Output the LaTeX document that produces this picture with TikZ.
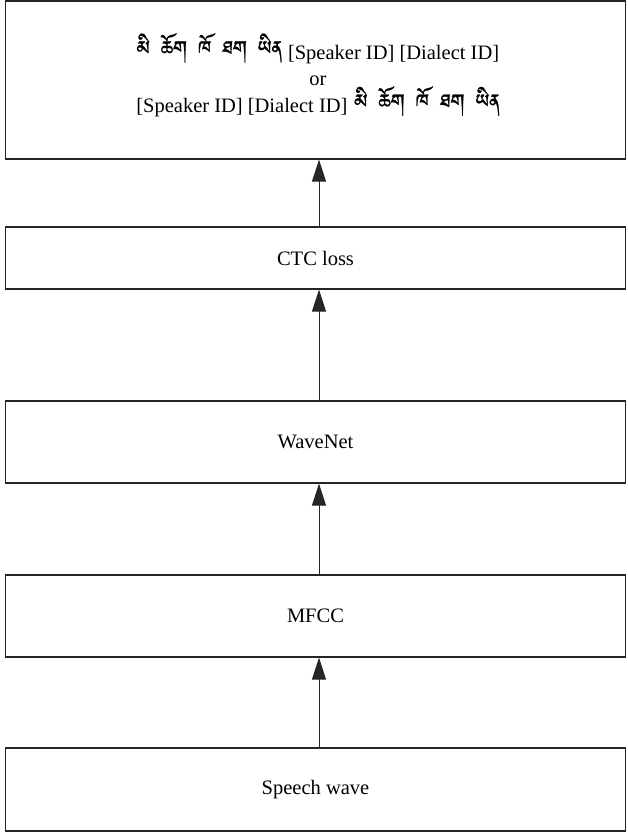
\documentclass[tikz,border=0pt]{standalone}
\usepackage{fontspec}
\setmainfont{Liberation Serif}
\usetikzlibrary{arrows.meta}
\IfFontExistsTF{Jomolhari}{\newfontfamily\tibfont[Script=Tibetan,Scale=1.18,FakeBold=1]{Jomolhari}}{%
 \IfFontExistsTF{Tibetan Machine Uni}{\newfontfamily\tibfont[Script=Tibetan,Scale=1.18,FakeBold=1]{Tibetan Machine Uni}}{%
  \IfFontExistsTF{Noto Serif Tibetan}{\newfontfamily\tibfont[Script=Tibetan,Scale=1.18,FakeBold=1]{Noto Serif Tibetan}}{%
   \newcommand\tibfont{}}}}
\newcommand\tibline{{\tibfont མི\hspace{11pt}ཆོག\hspace{11pt}ཁོ\hspace{11pt}ཐག\hspace{11pt}ཡིན}}
\tikzset{
  stagebox/.style={draw=black!85, line width=1.2pt, minimum width=620pt, inner sep=0pt,
    align=center, font=\fontsize{20.5}{23}\selectfont},
  plaintext/.style={inner sep=0pt, align=center, font=\fontsize{20.5}{26}\selectfont},
  uparrow/.style={draw=black!85, line width=1pt, -{Triangle[width=14pt,length=22pt]}}
}
\begin{document}
\begin{tikzpicture}[x=1pt,y=-1pt]
\useasboundingbox (0,0) rectangle (627,833);
\node[stagebox, minimum height=158pt] (top) at (315.5,80) {};
\node[plaintext] (toptext) at (318,75)
  {\tibline\hspace{6pt}[Speaker ID] [Dialect ID]\\ or\\ {}[Speaker ID] [Dialect ID]\hspace{7pt}\tibline};
\node[stagebox, minimum height=62pt] (ctc) at (315.5,258) {CTC loss};
\node[stagebox, minimum height=82pt] (wavenet) at (315.5,442) {WaveNet};
\node[stagebox, minimum height=82pt] (mfcc) at (315.5,616) {MFCC};
\node[stagebox, minimum height=83pt] (speech) at (315.5,789.5) {Speech wave};
\coordinate (ax) at (319,0);
\draw[uparrow] (ctc.north -| ax) -- (top.south -| ax);
\draw[uparrow] (wavenet.north -| ax) -- (ctc.south -| ax);
\draw[uparrow] (mfcc.north -| ax) -- (wavenet.south -| ax);
\draw[uparrow] (speech.north -| ax) -- (mfcc.south -| ax);
\end{tikzpicture}
\end{document}
